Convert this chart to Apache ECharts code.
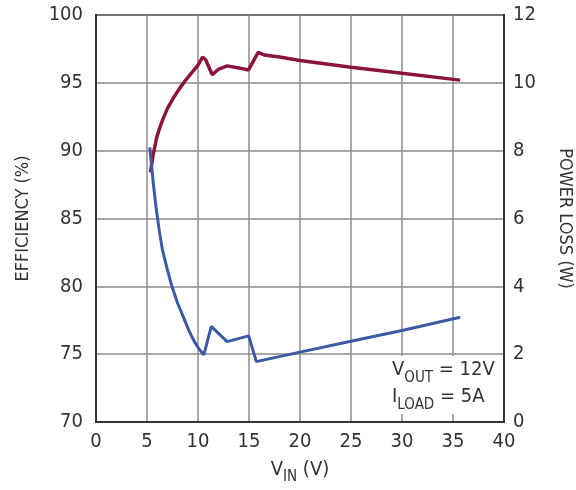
<!DOCTYPE html>
<html>
<head>
<meta charset="utf-8">
<script src="https://cdn.jsdelivr.net/npm/echarts@6/dist/echarts.min.js"></script>
<style>
html,body{margin:0;padding:0;background:#fff;}
#chart{width:576px;height:490px;}
</style>
</head>
<body>
<div id="chart"></div>
<script>
// Efficiency curve (left axis, %)
const vinEff = [5.34, 5.6, 5.96, 6.3, 6.6, 7.0, 7.6, 8.3, 8.9, 9.5, 10.0, 10.45, 10.75, 11.4, 12.0, 12.85, 14.0, 14.95, 15.9, 16.5, 18.0, 20.0, 25.0, 30.0, 35.7];
const efficiency = [88.4, 89.7, 91.0, 91.8, 92.4, 93.1, 93.9, 94.7, 95.3, 95.85, 96.3, 96.9, 96.7, 95.6, 96.0, 96.25, 96.1, 95.95, 97.25, 97.05, 96.9, 96.65, 96.15, 95.7, 95.2];
// Power loss curve (right axis, W)
const vinLoss = [5.27, 5.45, 5.65, 5.9, 6.2, 6.5, 6.9, 7.44, 8.0, 8.6, 9.1, 9.59, 10.1, 10.57, 11.3, 12.85, 14.97, 15.72, 20.0, 25.0, 30.0, 35.7];
const powerLoss = [8.1, 7.55, 6.95, 6.3, 5.65, 5.1, 4.6, 4.0, 3.5, 3.07, 2.7, 2.4, 2.15, 1.98, 2.82, 2.37, 2.54, 1.78, 2.06, 2.38, 2.7, 3.09];
// Axis ticks
const xTicks = [0, 40, 5];
const effTicks = [70, 100, 5];
const lossTicks = [0, 12, 2];

const FONT = '"Liberation Sans Narrow", "DejaVu Sans Condensed", "Liberation Sans", sans-serif';
const TXT = '#333333';
const chart = echarts.init(document.getElementById('chart'), null, {renderer: 'canvas'});
const effData = vinEff.map((v, i) => [v, efficiency[i]]);
const lossData = vinLoss.map((v, i) => [v, powerLoss[i]]);

chart.setOption({
  animation: false,
  backgroundColor: '#ffffff',
  grid: {left: 96, right: 72, top: 15, bottom: 68, outerBoundsMode: 'none', containLabel: false, show: true, borderColor: '#333', borderWidth: 2, backgroundColor: 'transparent'},
  xAxis: {
    type: 'value', min: xTicks[0], max: xTicks[1], interval: xTicks[2],
    axisLine: {show: true, lineStyle: {color: '#333', width: 2}},
    axisTick: {show: false},
    splitLine: {show: true, lineStyle: {color: '#8c8c8c', width: 1.5}},
    axisLabel: {color: TXT, fontFamily: FONT, fontSize: 20, margin: 10},
    name: '{v|V}{s|IN}{v| (V)}', nameLocation: 'middle', nameGap: 38,
    nameTextStyle: {rich: {
      v: {color: TXT, fontFamily: FONT, fontSize: 20, verticalAlign: 'bottom'},
      s: {color: TXT, fontFamily: FONT, fontSize: 15, verticalAlign: 'bottom', padding: [0,0,-5,0]}
    }}
  },
  yAxis: [{
    type: 'value', min: effTicks[0], max: effTicks[1], interval: effTicks[2],
    axisLine: {show: true, lineStyle: {color: '#333', width: 2}},
    axisTick: {show: false},
    splitLine: {show: true, lineStyle: {color: '#8c8c8c', width: 1.5}},
    axisLabel: {color: TXT, fontFamily: FONT, fontSize: 20, margin: 13},
    name: 'EFFICIENCY (%)', nameLocation: 'middle', nameGap: 64,
    nameTextStyle: {color: TXT, fontFamily: FONT, fontSize: 18}
  }, {
    type: 'value', min: lossTicks[0], max: lossTicks[1], interval: lossTicks[2], position: 'right',
    axisLine: {show: true, lineStyle: {color: '#333', width: 2}},
    axisTick: {show: false},
    splitLine: {show: false},
    axisLabel: {color: TXT, fontFamily: FONT, fontSize: 20, margin: 9},
    name: 'POWER LOSS (W)', nameLocation: 'middle', nameGap: 52, nameRotate: -90,
    nameTextStyle: {color: TXT, fontFamily: FONT, fontSize: 18}
  }],
  graphic: [{
    type: 'rect', z: 1, silent: true,
    shape: {x: 386, y: 356, width: 116, height: 58},
    style: {fill: '#ffffff'}
  }, {
    type: 'text', z: 3, left: 392, top: 360,
    style: {
      text: '{v|V}{s|OUT}{v| = 12V}\n{v|I}{s|LOAD}{v| = 5A}',
      rich: {
        v: {fill: TXT, fontFamily: FONT, fontSize: 20, lineHeight: 27, verticalAlign: 'bottom'},
        s: {fill: TXT, fontFamily: FONT, fontSize: 15, lineHeight: 27, verticalAlign: 'bottom', padding: [0,0,-6,0]}
      }
    }
  }],
  series: [{
    type: 'line', yAxisIndex: 0, data: effData, showSymbol: false, smooth: false,
    lineStyle: {color: '#8a1538', width: 3.5}, z: 3
  }, {
    type: 'line', yAxisIndex: 1, data: lossData, showSymbol: false, smooth: false,
    lineStyle: {color: '#3a5aa6', width: 3}, z: 4
  }]
});
</script>
</body>
</html>
